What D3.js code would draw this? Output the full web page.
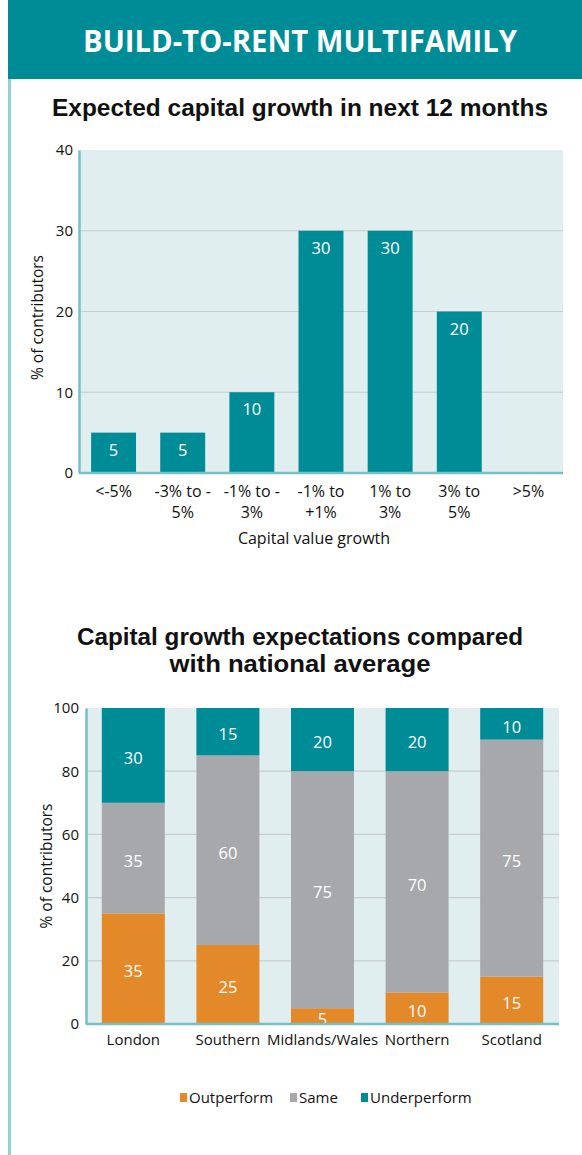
<!DOCTYPE html>
<html>
<head>
<meta charset="utf-8">
<script src="https://cdn.jsdelivr.net/npm/d3@7/dist/d3.min.js"></script>
<style>
  html, body { margin: 0; padding: 0; background: #ffffff; }
  svg { display: block; font-family: "Open Sans", "Noto Sans", sans-serif; }
</style>
</head>
<body>
<svg id="page" width="582" height="1155"></svg>
<script>
// Expected capital growth distribution
const growthBuckets = ["<-5%", "-3% to -\n5%", "-1% to -\n3%", "-1% to\n+1%", "1% to\n3%", "3% to\n5%", ">5%"];
const growthShares = [5, 5, 10, 30, 30, 20, 0];
const growthTicks = [0, 10, 20, 30, 40];

// Regional expectations vs national average
const regions = ["London", "Southern", "Midlands/Wales", "Northern", "Scotland"];
const outperform = [35, 25, 5, 10, 15];
const same = [35, 60, 75, 70, 75];
const underperform = [30, 15, 20, 20, 10];
const seriesNames = ["Outperform", "Same", "Underperform"];
const regionTicks = [0, 20, 40, 60, 80, 100];

const TEAL = "#008c96";
const ORANGE = "#e4892a";
const GREY = "#a7a8ab";
const PLOT_BG = "#e0eeef";
const AXIS = "#76bfc6";
const GRID = "#c8cccd";

const svg = d3.select("#page");

// Page furniture: header band and left rule
svg.append("rect").attr("x", 8).attr("y", 0).attr("width", 574).attr("height", 79).attr("fill", TEAL);
svg.append("text").attr("x", 300).attr("y", 52).attr("text-anchor", "middle")
  .attr("fill", "#ffffff").attr("font-weight", 700).attr("font-size", 30)
  .attr("textLength", 434).attr("lengthAdjust", "spacingAndGlyphs")
  .text("BUILD-TO-RENT MULTIFAMILY");
svg.append("rect").attr("x", 8).attr("y", 79).attr("width", 3).attr("height", 1076).attr("fill", "#93d0d8");

function title(lines, y0, lh, widths) {
  lines.forEach((t, i) => {
    svg.append("text").attr("x", 300).attr("y", y0 + i * lh).attr("text-anchor", "middle")
      .attr("fill", "#111").attr("font-weight", 700).attr("font-size", 23)
      .attr("font-family", "'Liberation Sans', Arial, sans-serif")
      .attr("textLength", widths[i]).attr("lengthAdjust", "spacingAndGlyphs")
      .text(t);
  });
}

// ---------- Chart 1 ----------
title(["Expected capital growth in next 12 months"], 116, 0, [496]);
{
  const left = 79, right = 563, top = 150, bottom = 473;
  const x = d3.scaleBand().domain(growthBuckets).range([left, right]).paddingInner(0.35).paddingOuter(0.175);
  const y = d3.scaleLinear().domain([0, 40]).range([bottom, top]);
  const g = svg.append("g");
  g.append("rect").attr("x", left).attr("y", top).attr("width", right - left).attr("height", bottom - top).attr("fill", PLOT_BG);
  g.selectAll("line.grid").data(growthTicks.filter(d => d > 0 && d < 40)).join("line")
    .attr("x1", left).attr("x2", right).attr("y1", d => y(d)).attr("y2", d => y(d))
    .attr("stroke", GRID).attr("stroke-width", 1.2);
  g.selectAll("rect.bar").data(growthShares).join("rect")
    .attr("x", (d, i) => x(growthBuckets[i])).attr("width", x.bandwidth())
    .attr("y", d => y(d)).attr("height", d => bottom - y(d)).attr("fill", TEAL);
  g.selectAll("text.val").data(growthShares).join("text")
    .filter(d => d > 0)
    .attr("x", (d, i) => x(growthBuckets[i]) + x.bandwidth() / 2).attr("y", d => y(d) + 23)
    .attr("text-anchor", "middle").attr("fill", "#fff").attr("font-size", 16.5).text(d => d);

  const yAxis = d3.axisLeft(y).tickValues(growthTicks).tickSize(0).tickPadding(6);
  const ya = g.append("g").attr("transform", `translate(${left},0)`).call(yAxis);
  ya.select(".domain").attr("stroke", AXIS).attr("stroke-width", 2.5);
  ya.selectAll("text").attr("font-size", 15).attr("fill", "#111").attr("font-family", "Open Sans, sans-serif");

  const xAxis = d3.axisBottom(x).tickSize(0).tickFormat("");
  const xa = g.append("g").attr("transform", `translate(0,${bottom})`).call(xAxis);
  xa.select(".domain").attr("stroke", AXIS).attr("stroke-width", 2.5).attr("d", `M${left},0H${right}`);
  growthBuckets.forEach(b => {
    const t = g.append("text").attr("text-anchor", "middle").attr("font-size", 16).attr("fill", "#111");
    b.split("\n").forEach((line, j) => {
      t.append("tspan").attr("x", x(b) + x.bandwidth() / 2).attr("y", 497 + j * 21).text(line);
    });
  });
  g.append("text").attr("x", 314).attr("y", 544).attr("text-anchor", "middle")
    .attr("font-size", 16).attr("fill", "#111").text("Capital value growth");
  g.append("text").attr("transform", `translate(43,${(top + bottom) / 2 + 6}) rotate(-90)`)
    .attr("text-anchor", "middle").attr("font-size", 15.5).attr("fill", "#111").text("% of contributors");
}

// ---------- Chart 2 ----------
title(["Capital growth expectations compared", "with national average"], 645, 27, [446, 261]);
{
  const left = 86, right = 559, top = 708, bottom = 1024;
  const rows = regions.map((r, i) => ({ region: r, Outperform: outperform[i], Same: same[i], Underperform: underperform[i] }));
  const stacked = d3.stack().keys(seriesNames)(rows);
  const color = d3.scaleOrdinal().domain(seriesNames).range([ORANGE, GREY, TEAL]);
  const x = d3.scaleBand().domain(regions).range([left, right]).paddingInner(0.334).paddingOuter(0.167);
  const y = d3.scaleLinear().domain([0, 100]).range([bottom, top]);
  const g = svg.append("g");
  g.append("rect").attr("x", left).attr("y", top).attr("width", right - left).attr("height", bottom - top).attr("fill", PLOT_BG);
  g.selectAll("line.grid").data(regionTicks.filter(d => d > 0 && d < 100)).join("line")
    .attr("x1", left).attr("x2", right).attr("y1", d => y(d)).attr("y2", d => y(d))
    .attr("stroke", GRID).attr("stroke-width", 1.2);
  const layer = g.selectAll("g.layer").data(stacked).join("g").attr("fill", d => color(d.key));
  layer.selectAll("rect").data(d => d).join("rect")
    .attr("x", d => x(d.data.region)).attr("width", x.bandwidth())
    .attr("y", d => y(d[1])).attr("height", d => y(d[0]) - y(d[1]));
  const labels = g.append("g");
  stacked.forEach(s => {
    s.forEach(d => {
      labels.append("text").attr("x", x(d.data.region) + x.bandwidth() / 2)
        .attr("y", (y(d[0]) + y(d[1])) / 2 + 3).attr("dy", "0.35em")
        .attr("text-anchor", "middle").attr("fill", "#fff").attr("font-size", 16.5)
        .text(d[1] - d[0]);
    });
  });

  const yAxis = d3.axisLeft(y).tickValues(regionTicks).tickSize(0).tickPadding(7);
  const ya = g.append("g").attr("transform", `translate(${left},0)`).call(yAxis);
  ya.select(".domain").attr("stroke", AXIS).attr("stroke-width", 2.5);
  ya.selectAll("text").attr("font-size", 15).attr("fill", "#111").attr("font-family", "Open Sans, sans-serif");

  const xAxis = d3.axisBottom(x).tickSize(0).tickPadding(10);
  const xa = g.append("g").attr("transform", `translate(0,${bottom})`).call(xAxis);
  xa.select(".domain").attr("stroke", AXIS).attr("stroke-width", 2.5).attr("d", `M${left},0H${right}`);
  xa.selectAll("text").attr("font-size", 15).attr("fill", "#111").attr("font-family", "Open Sans, sans-serif");

  g.append("text").attr("transform", `translate(52,${(top + bottom) / 2}) rotate(-90)`)
    .attr("text-anchor", "middle").attr("font-size", 15.5).attr("fill", "#111").text("% of contributors");

  // Legend
  const legendX = [180, 290, 361];
  seriesNames.forEach((n, i) => {
    svg.append("rect").attr("x", legendX[i]).attr("y", 1093).attr("width", 7).attr("height", 9).attr("fill", color(n));
    svg.append("text").attr("x", legendX[i] + 9).attr("y", 1103).attr("font-size", 15).attr("fill", "#111").text(n);
  });
}
</script>
</body>
</html>
